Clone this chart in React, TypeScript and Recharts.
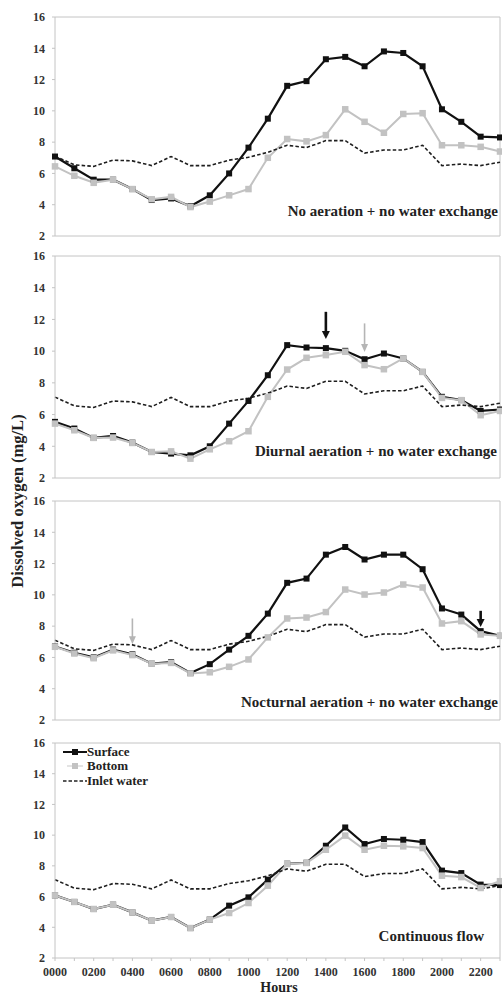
import React from 'react';
import { LineChart, Line, XAxis, YAxis, ReferenceLine, Legend } from 'recharts';

const HOURS = ['0000','0100','0200','0300','0400','0500','0600','0700','0800','0900','1000','1100','1200','1300','1400','1500','1600','1700','1800','1900','2000','2100','2200','2300'];
const Y_TICKS = [2, 4, 6, 8, 10, 12, 14, 16];
const SERIES_NAMES = ['Surface', 'Bottom', 'Inlet water'];

const INLET = [7.1,6.55,6.45,6.85,6.8,6.5,7.08,6.5,6.5,6.85,7.03,7.35,7.8,7.65,8.1,8.1,7.3,7.5,7.5,7.8,6.5,6.6,6.5,6.72];

const P1_SURFACE = [7.08,6.33,5.6,5.6,5.0,4.3,4.4,3.9,4.6,6.0,7.65,9.5,11.6,11.9,13.3,13.45,12.85,13.8,13.7,12.85,10.1,9.3,8.35,8.3];
const P1_BOTTOM = [6.45,5.85,5.4,5.6,5.0,4.35,4.5,3.85,4.2,4.6,5.0,7.0,8.2,8.05,8.45,10.1,9.3,8.6,9.8,9.85,7.8,7.8,7.7,7.4];

const P2_SURFACE = [5.54,5.12,4.53,4.65,4.23,3.64,3.54,3.43,4.0,5.43,6.86,8.48,10.38,10.23,10.19,10.02,9.49,9.85,9.54,8.69,7.12,6.91,6.23,6.32];
const P2_BOTTOM = [5.43,5.01,4.53,4.55,4.21,3.64,3.68,3.22,3.81,4.32,4.95,7.12,8.84,9.58,9.75,9.96,9.12,8.86,9.54,8.69,7.05,6.91,5.96,6.23];

const P3_SURFACE = [6.7,6.3,6.0,6.5,6.2,5.6,5.7,5.0,5.57,6.5,7.38,8.8,10.77,11.04,12.57,13.06,12.26,12.57,12.57,11.64,9.13,8.74,7.68,7.38];
const P3_BOTTOM = [6.68,6.25,5.95,6.45,6.15,5.6,5.65,4.98,5.05,5.4,5.87,7.28,8.49,8.55,8.9,10.34,10.02,10.15,10.66,10.47,8.17,8.32,7.47,7.38];

const P4_SURFACE = [6.08,5.65,5.19,5.47,4.97,4.43,4.67,3.95,4.5,5.41,5.95,7.1,8.14,8.2,9.31,10.5,9.42,9.75,9.7,9.55,7.69,7.53,6.78,6.75];
const P4_BOTTOM = [6.08,5.65,5.19,5.47,4.97,4.43,4.67,3.95,4.5,4.93,5.58,6.71,8.12,8.19,9.05,9.97,9.05,9.31,9.27,9.16,7.36,7.27,6.56,7.0];

const PANEL_TITLES = [
  'No aeration + no water exchange',
  'Diurnal aeration + no water exchange',
  'Nocturnal aeration + no water exchange',
  'Continuous flow',
];

// arrows: [hour, top value, tip value, kind]
const P2_ARROWS: [string, number, number, string][] = [['1400', 12.48, 10.76, 'black'], ['1600', 11.75, 9.95, 'gray']];
const P3_ARROWS: [string, number, number, string][] = [['0400', 8.49, 6.85, 'gray'], ['2200', 8.98, 7.95, 'black']];

const FONT = '"Liberation Serif", "Times New Roman", serif';
const BLACK = '#111111';
const GRAY = '#c2c2c2';
const FRAME = '#c4c4c4';

const buildRows = (surface: number[], bottom: number[]) =>
  HOURS.map((h, i) => ({ hour: h, surface: surface[i], bottom: bottom[i], inlet: INLET[i] }));

const squareDot = (fill: string, size: number) => (props: any) => {
  const { cx, cy, index } = props;
  if (cx == null || cy == null) return <g key={`e${index}`} />;
  return <rect key={`d${index}`} x={cx - size / 2} y={cy - size / 2} width={size} height={size} fill={fill} />;
};

const arrowShape = (kind: string) => (props: any) => {
  const { x1, y1, x2, y2 } = props;
  const color = kind === 'black' ? BLACK : '#b5b5b5';
  const w = kind === 'black' ? 2.6 : 1.6;
  const hw = kind === 'black' ? 4 : 3.5;
  const hl = 8;
  return (
    <g>
      <line x1={x1} y1={y1} x2={x2} y2={y2 - hl + 1} stroke={color} strokeWidth={w} />
      <polygon points={`${x2 - hw},${y2 - hl} ${x2 + hw},${y2 - hl} ${x2},${y2}`} fill={color} />
    </g>
  );
};

const renderLegend = () => (
  <div style={{ fontFamily: FONT, fontWeight: 'bold', fontSize: 13, color: '#222', lineHeight: '14.5px' }}>
    {SERIES_NAMES.map((name, i) => (
      <div key={name} style={{ display: 'flex', alignItems: 'center', height: 14.5 }}>
        <svg width={24} height={14} style={{ display: 'block' }}>
          {i === 0 && (
            <g>
              <line x1={0} y1={7} x2={24} y2={7} stroke={BLACK} strokeWidth={2} />
              <rect x={9} y={4} width={6} height={6} fill={BLACK} />
            </g>
          )}
          {i === 1 && (
            <g>
              <line x1={4} y1={7} x2={20} y2={7} stroke={GRAY} strokeWidth={1.5} opacity={0.6} />
              <rect x={9} y={4} width={6} height={6} fill={GRAY} />
            </g>
          )}
          {i === 2 && <line x1={0} y1={7} x2={24} y2={7} stroke="#222" strokeWidth={1.6} strokeDasharray="3.5 2" />}
        </svg>
        <span>{name}</span>
      </div>
    ))}
  </div>
);

type PanelProps = {
  top: number;
  plotHeight: number;
  rows: any[];
  arrows?: [string, number, number, string][];
  showX?: boolean;
  legend?: boolean;
};

const Panel = ({ top, plotHeight, rows, arrows = [], showX = false, legend = false }: PanelProps) => {
  const mTop = 10;
  const xH = showX ? 30 : 0;
  const mBottom = showX ? 11 : 10;
  const height = mTop + plotHeight + xH + mBottom;
  return (
    <div style={{ position: 'absolute', left: 0, top: top - mTop, width: 502, height }}>
      <LineChart width={502} height={height} data={rows} margin={{ top: mTop, right: 2, bottom: mBottom, left: 10 }}>
        <XAxis
          dataKey="hour"
          hide={!showX}
          height={xH}
          interval={0}
          tickSize={3}
          tickMargin={6}
          stroke={FRAME}
          tickLine={{ stroke: FRAME }}
          axisLine={{ stroke: FRAME }}
          tick={{ fontFamily: FONT, fontWeight: 'bold', fontSize: 12, fill: '#333' }}
          tickFormatter={(v: string) => (HOURS.indexOf(v) % 2 === 0 ? v : '')}
        />
        <YAxis
          type="number"
          domain={[2, 16]}
          ticks={Y_TICKS}
          interval={0}
          width={45}
          tickSize={3}
          tickMargin={7}
          axisLine={{ stroke: FRAME }}
          tickLine={{ stroke: FRAME }}
          tick={{ fontFamily: FONT, fontWeight: 'bold', fontSize: 12, fill: '#333' }}
        />
        <ReferenceLine y={16} stroke={FRAME} />
        <ReferenceLine x="2300" stroke={FRAME} />
        {!showX && <ReferenceLine y={2} stroke={FRAME} />}
        <Line
          type="linear"
          dataKey="surface"
          name={SERIES_NAMES[0]}
          stroke={BLACK}
          strokeWidth={2.2}
          dot={squareDot(BLACK, 6)}
          activeDot={false}
          isAnimationActive={false}
        />
        <Line
          type="linear"
          dataKey="bottom"
          name={SERIES_NAMES[1]}
          stroke={GRAY}
          strokeWidth={2}
          dot={squareDot(GRAY, 6.5)}
          activeDot={false}
          isAnimationActive={false}
        />
        <Line
          type="linear"
          dataKey="inlet"
          name={SERIES_NAMES[2]}
          stroke="#1e1e1e"
          strokeWidth={1.6}
          strokeDasharray="3.5 2.2"
          dot={false}
          activeDot={false}
          isAnimationActive={false}
        />
        {arrows.map(([h, y1, y2, kind]) => (
          <ReferenceLine
            key={`${h}-${kind}`}
            segment={[{ x: h, y: y1 }, { x: h, y: y2 }]}
            shape={arrowShape(kind)}
          />
        ))}
        {legend && (
          <Legend
            layout="vertical"
            align="center"
            verticalAlign="middle"
            content={renderLegend}
            wrapperStyle={{ left: 63, top: 11.5, width: 'auto', height: 'auto' }}
          />
        )}
      </LineChart>
    </div>
  );
};

const titleStyle = (centerY: number, right: number): React.CSSProperties => ({
  position: 'absolute',
  right: 502 - right,
  top: centerY - 9,
  lineHeight: '18px',
  fontFamily: FONT,
  fontWeight: 'bold',
  fontSize: 15,
  color: '#222',
  whiteSpace: 'nowrap',
});

export default function App() {
  return (
    <div style={{ position: 'absolute', left: 0, top: 0, width: 502, height: 999, background: '#fff', overflow: 'hidden' }}>
      <Panel top={17} plotHeight={219} rows={buildRows(P1_SURFACE, P1_BOTTOM)} />
      <Panel top={256} plotHeight={222} rows={buildRows(P2_SURFACE, P2_BOTTOM)} arrows={P2_ARROWS} />
      <Panel top={501} plotHeight={219} rows={buildRows(P3_SURFACE, P3_BOTTOM)} arrows={P3_ARROWS} />
      <Panel top={743} plotHeight={215} rows={buildRows(P4_SURFACE, P4_BOTTOM)} showX legend />
      <div style={titleStyle(211, 498)}>{PANEL_TITLES[0]}</div>
      <div style={titleStyle(451, 497)}>{PANEL_TITLES[1]}</div>
      <div style={titleStyle(702, 498)}>{PANEL_TITLES[2]}</div>
      <div style={titleStyle(936, 484)}>{PANEL_TITLES[3]}</div>
      <div
        style={{
          position: 'absolute',
          left: 18,
          top: 501,
          transform: 'translate(-50%, -50%) rotate(-90deg)',
          fontFamily: FONT,
          fontWeight: 'bold',
          fontSize: 16.5,
          color: '#222',
          whiteSpace: 'nowrap',
        }}
      >
        Dissolved oxygen (mg/L)
      </div>
      <div
        style={{
          position: 'absolute',
          left: 279,
          top: 988,
          transform: 'translate(-50%, -50%)',
          fontFamily: FONT,
          fontWeight: 'bold',
          fontSize: 14,
          color: '#222',
          whiteSpace: 'nowrap',
        }}
      >
        Hours
      </div>
    </div>
  );
}
